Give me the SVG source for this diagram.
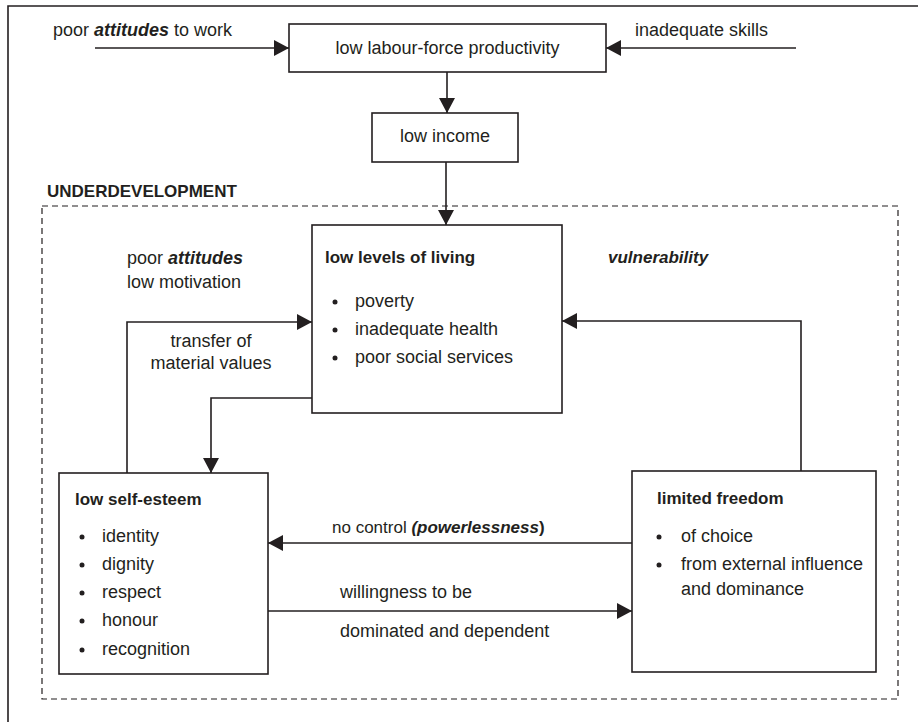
<svg xmlns="http://www.w3.org/2000/svg" width="918" height="722" viewBox="0 0 918 722">
<style>
  text { font-family: "Liberation Sans", Arial, sans-serif; font-size: 18px; fill: #231f20; }
  .t { font-weight: bold; font-size: 17px; }
  .bi { font-weight: bold; font-style: italic; }
  .b { font-weight: bold; }
  .box { fill: #fff; stroke: #231f20; stroke-width: 1.6; }
  .conn path { fill: none; stroke: #231f20; stroke-width: 1.6; }
  .dot { fill: #231f20; }
</style>
<defs>
  <marker id="ah" viewBox="0 0 15 16" refX="15" refY="8" markerWidth="15" markerHeight="16" markerUnits="userSpaceOnUse" orient="auto">
    <path d="M0,0 L15,8 L0,16 Z" fill="#231f20"/>
  </marker>
</defs>
<rect width="918" height="722" fill="#fff"/>
<path d="M8,722 V6 H918" fill="none" stroke="#231f20" stroke-width="1.6"/>
<rect x="42" y="206" width="856" height="493" fill="none" stroke="#231f20" stroke-width="1.2" stroke-dasharray="6,4"/>
<text x="47" y="197" class="b" style="font-size:17px">UNDERDEVELOPMENT</text>

<g class="conn">
  <path d="M95,48 H289" marker-end="url(#ah)"/>
  <path d="M796,48 H606" marker-end="url(#ah)"/>
  <path d="M447,72 V113" marker-end="url(#ah)"/>
  <path d="M446,162 V225" marker-end="url(#ah)"/>
  <path d="M127,473 V322 H312" marker-end="url(#ah)"/>
  <path d="M312,398 H211 V473" marker-end="url(#ah)"/>
  <path d="M801,471 V321 H562" marker-end="url(#ah)"/>
  <path d="M632,543 H268" marker-end="url(#ah)"/>
  <path d="M268,611 H632" marker-end="url(#ah)"/>
</g>

<g id="labels">
  <text x="53" y="36">poor <tspan class="bi">attitudes</tspan> to work</text>
  <text x="635" y="36">inadequate skills</text>
  <text x="127" y="264">poor <tspan class="bi">attitudes</tspan></text>
  <text x="127" y="288">low motivation</text>
  <text x="608" y="263" class="bi" style="font-size:17px">vulnerability</text>
  <text x="211" y="347" text-anchor="middle">transfer of</text>
  <text x="211" y="369" text-anchor="middle">material values</text>
  <text x="332" y="533" style="font-size:17px">no control <tspan class="bi">(powerlessness</tspan><tspan class="b">)</tspan></text>
  <text x="340" y="598">willingness to be</text>
  <text x="340" y="637">dominated and dependent</text>
</g>

<g id="productivity">
  <rect class="box" x="289" y="24" width="317" height="48"/>
  <text x="447.5" y="54" text-anchor="middle">low labour-force productivity</text>
</g>

<g id="income">
  <rect class="box" x="372" y="113" width="146" height="49"/>
  <text x="445" y="142" text-anchor="middle">low income</text>
</g>

<g id="living">
  <rect class="box" x="312" y="225" width="250" height="188"/>
  <text x="325" y="263" class="t">low levels of living</text>
  <circle class="dot" cx="335" cy="302" r="2.5"/>
  <circle class="dot" cx="335" cy="330" r="2.5"/>
  <circle class="dot" cx="335" cy="358" r="2.5"/>
  <text x="355" y="307">poverty</text>
  <text x="355" y="335">inadequate health</text>
  <text x="355" y="363">poor social services</text>
</g>

<g id="esteem">
  <rect class="box" x="59" y="473" width="209" height="201"/>
  <text x="75" y="505" class="t">low self-esteem</text>
  <circle class="dot" cx="82" cy="537" r="2.5"/>
  <circle class="dot" cx="82" cy="565" r="2.5"/>
  <circle class="dot" cx="82" cy="593" r="2.5"/>
  <circle class="dot" cx="82" cy="621" r="2.5"/>
  <circle class="dot" cx="82" cy="650" r="2.5"/>
  <text x="102" y="542">identity</text>
  <text x="102" y="570">dignity</text>
  <text x="102" y="598">respect</text>
  <text x="102" y="626">honour</text>
  <text x="102" y="655">recognition</text>
</g>

<g id="freedom">
  <rect class="box" x="632" y="471" width="244" height="201"/>
  <text x="657" y="504" class="t">limited freedom</text>
  <circle class="dot" cx="659" cy="537" r="2.5"/>
  <circle class="dot" cx="659" cy="565" r="2.5"/>
  <text x="681" y="542">of choice</text>
  <text x="681" y="570">from external influence</text>
  <text x="681" y="595">and dominance</text>
</g>
</svg>
